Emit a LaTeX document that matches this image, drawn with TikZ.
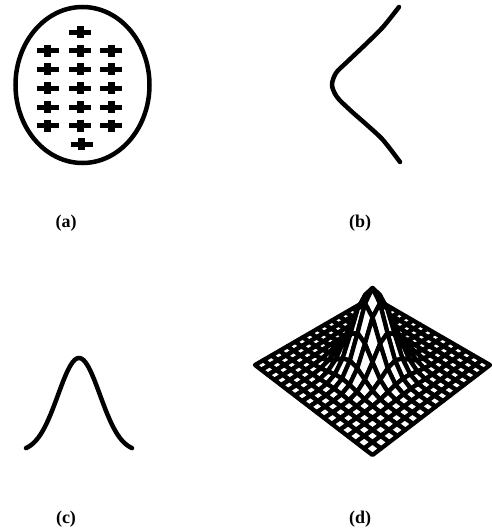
\documentclass[tikz,border=0pt]{standalone}
\usepackage{fontspec}
\setmainfont{Liberation Serif}
\usetikzlibrary{positioning}
\tikzset{
  declare function={
    hh(\a,\b)=exp(-(\a*\a+\b*\b)/0.1);
    ww(\a,\b)=1-0.0696*(\a-\b);
    sx(\a,\b)=372.5+58.75*(\a+\b)/ww(\a,\b);
    sy(\a,\b)=365+(38.75*(\a-\b)-77*hh(\a,\b))/ww(\a,\b);
  },
  trazo/.style={line width=4.5pt, line cap=round, line join=round},
  barrah/.style={line width=5pt},
  barrav/.style={line width=7pt},
  malla/.style={fill=white, draw=black, line width=4.3pt, line join=round},
  rotulo/.style={font=\fontsize{18}{21}\selectfont\bfseries, inner sep=0pt}
}
\begin{document}
\begin{tikzpicture}[x=1pt,y=-1pt]
  \useasboundingbox (0,0) rectangle (491,529);
  % (a) oval with charges
  \draw[line width=4.5pt] (82.5,85) ellipse [x radius=67, y radius=78];
  \foreach \px/\py in {80/32.3,81.7/144.3} {
    \draw[barrah] (\px-11,\py) -- (\px+11,\py);
    \draw[barrav] (\px,\py-6) -- (\px,\py+6);
  }
  \foreach \py in {50.7,69.3,88.3,107.3,125.7}
    \foreach \px in {47.5,80,111} {
      \draw[barrah] (\px-11,\py) -- (\px+11,\py);
      \draw[barrav] (\px,\py-6) -- (\px,\py+6);
    }
  % (b)
  \draw[trazo] plot[smooth] coordinates {(399,7) (383,27) (367,43) (347,62) (336,73)
    (332,85) (337,97) (350,110) (367,125) (383,140) (400,162)};
  % (c)
  \draw[trazo] plot[domain=-53:53, samples=60, smooth]
    ({79+\x}, {452-94*exp(-\x*\x/(2*21*21))});
  % (d) surface, drawn back to front
  \foreach \k in {15,14,...,-15} {
    \pgfmathtruncatemacro\ilo{max(0,-\k)}
    \pgfmathtruncatemacro\ihi{min(15,15-\k)}
    \foreach \i in {\ilo,...,\ihi} {
      \pgfmathsetmacro\ua{-1+\i/8}
      \pgfmathsetmacro\ub{\ua+1/8}
      \pgfmathsetmacro\va{-1+(\i+\k)/8}
      \pgfmathsetmacro\vb{\va+1/8}
      \filldraw[malla] ({sx(\ua,\va)},{sy(\ua,\va)}) -- ({sx(\ub,\va)},{sy(\ub,\va)})
        -- ({sx(\ub,\vb)},{sy(\ub,\vb)}) -- ({sx(\ua,\vb)},{sy(\ua,\vb)}) -- cycle;
    }
  }
  % labels
  \node[rotulo] (lbla) at (66,223) {(a)};
  \node[rotulo] (lblb) at (360,223) {(b)};
  \node[rotulo] (lblc) at (66,519) {(c)};
  \node[rotulo] (lbld) at (360,519) {(d)};
\end{tikzpicture}
\end{document}
